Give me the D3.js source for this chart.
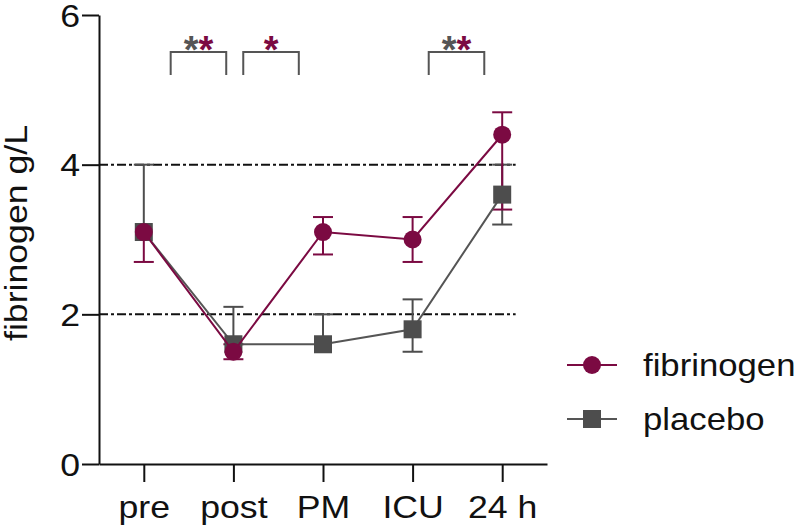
<!DOCTYPE html>
<html>
<head>
<meta charset="utf-8">
<script src="https://cdn.jsdelivr.net/npm/d3@7"></script>
<style>
  body { margin: 0; background: #fff; }
  text { font-family: "Liberation Sans", Arial, sans-serif; }
</style>
</head>
<body>
<div id="chart"></div>
<script>
// data
var categories = ["pre", "post", "PM", "ICU", "24 h"];

var fibMean = [3.1, 1.5, 3.1, 3.0, 4.4];
var fibLow  = [2.7, 1.4, 2.8, 2.7, 3.4];
var fibHigh = [3.1, 1.6, 3.3, 3.3, 4.7];

var plcMean = [3.1, 1.6, 1.6, 1.8, 3.6];
var plcLow  = [3.1, 1.6, 1.6, 1.5, 3.2];
var plcHigh = [4.0, 2.1, 2.0, 2.2, 4.0];

var yTicks = [0, 2, 4, 6];
var refLines = [2, 4];

// brackets: [start, end] in category units, stars with colors
var brackets = [
  { from: 0.3, to: 0.92, stars: ["#555555", "#7b0a42"] },
  { from: 1.11, to: 1.73, stars: ["#7b0a42"] },
  { from: 3.18, to: 3.8, stars: ["#555555", "#7b0a42"] }
];

var svgWidth = 800;
var svgHeight = 529;

var maroon = "#7b0a42";
var grey = "#4d4d4d";
var sx = 1.15; // glyphs in the figure are wider than Arial

var svg = d3.select("#chart")
  .append("svg")
  .attr("width", svgWidth)
  .attr("height", svgHeight);

var x = d3.scaleLinear().domain([-0.5, 4.5]).range([99, 547]);
var y = d3.scaleLinear().domain([0, 6]).range([464, 15]);

// reference lines (dash-dot)
svg.selectAll(".ref")
  .data(refLines)
  .enter()
  .append("line")
  .attr("x1", x(-0.5))
  .attr("x2", x(4.15))
  .attr("y1", d => y(d))
  .attr("y2", d => y(d))
  .attr("stroke", "#111")
  .attr("stroke-width", 2)
  .attr("stroke-dasharray", "9,3,3,3");

// axes
var leftAxis = d3.axisLeft(y).tickValues(yTicks).tickFormat(d3.format("d"))
  .tickSize(17).tickSizeOuter(0).tickPadding(2);
var bottomAxis = d3.axisBottom(x).tickValues(d3.range(categories.length))
  .tickFormat(i => categories[i]).tickSize(18).tickSizeOuter(0);

var yAxis = svg.append("g")
  .attr("transform", `translate(${x(-0.5)}, 0)`)
  .call(leftAxis);

var xAxis = svg.append("g")
  .attr("transform", `translate(0, ${y(0)})`)
  .call(bottomAxis);

[xAxis, yAxis].forEach(function (ax) {
  ax.select(".domain").attr("stroke", "#111").attr("stroke-width", 2);
  ax.selectAll(".tick line").attr("stroke", "#111").attr("stroke-width", 2);
  ax.selectAll(".tick text")
    .attr("fill", "#111")
    .style("font-size", "31px");
});

yAxis.selectAll(".tick text")
  .attr("x", -19 / sx)
  .attr("dy", "0.36em")
  .attr("transform", `scale(${sx},1)`);

xAxis.selectAll(".tick text")
  .attr("y", 32)
  .attr("transform", `scale(${sx},1)`);

// y label
svg.append("text")
  .attr("transform", `translate(27, 233) rotate(-90) scale(${sx},1)`)
  .attr("text-anchor", "middle")
  .attr("fill", "#111")
  .style("font-size", "31px")
  .text("fibrinogen g/L");

// error bars
function drawErrors(mean, low, high, color) {
  var g = svg.append("g");
  mean.forEach(function (m, i) {
    var cx = x(i);
    if (high[i] > m) {
      g.append("line").attr("x1", cx).attr("x2", cx).attr("y1", y(m)).attr("y2", y(high[i]))
        .attr("stroke", color).attr("stroke-width", 2);
      g.append("line").attr("x1", cx - 10).attr("x2", cx + 10).attr("y1", y(high[i])).attr("y2", y(high[i]))
        .attr("stroke", color).attr("stroke-width", 2);
    }
    if (low[i] < m) {
      g.append("line").attr("x1", cx).attr("x2", cx).attr("y1", y(m)).attr("y2", y(low[i]))
        .attr("stroke", color).attr("stroke-width", 2);
      g.append("line").attr("x1", cx - 10).attr("x2", cx + 10).attr("y1", y(low[i])).attr("y2", y(low[i]))
        .attr("stroke", color).attr("stroke-width", 2);
    }
  });
}

drawErrors(plcMean, plcLow, plcHigh, grey);
drawErrors(fibMean, fibLow, fibHigh, maroon);

var line = d3.line().x((d, i) => x(i)).y(d => y(d));

// placebo
svg.append("path")
  .datum(plcMean)
  .attr("d", line)
  .attr("fill", "none")
  .attr("stroke", "#555")
  .attr("stroke-width", 2);

svg.selectAll(".plc")
  .data(plcMean)
  .enter()
  .append("rect")
  .attr("x", (d, i) => x(i) - 9)
  .attr("y", d => y(d) - 9)
  .attr("width", 18)
  .attr("height", 18)
  .attr("fill", grey);

// fibrinogen
svg.append("path")
  .datum(fibMean)
  .attr("d", line)
  .attr("fill", "none")
  .attr("stroke", maroon)
  .attr("stroke-width", 2);

svg.selectAll(".fib")
  .data(fibMean)
  .enter()
  .append("circle")
  .attr("cx", (d, i) => x(i))
  .attr("cy", d => y(d))
  .attr("r", 9)
  .attr("fill", maroon);

// significance brackets
brackets.forEach(function (b) {
  var x1 = x(b.from), x2 = x(b.to);
  svg.append("path")
    .attr("d", `M${x1},75 V52 H${x2} V75`)
    .attr("fill", "none")
    .attr("stroke", "#555")
    .attr("stroke-width", 2);
  var t = svg.append("text")
    .attr("x", (x1 + x2) / 2)
    .attr("y", 63)
    .attr("text-anchor", "middle")
    .style("font-size", "38px")
    .style("font-weight", "bold");
  b.stars.forEach(function (c) {
    t.append("tspan").attr("fill", c).text("*");
  });
});

// legend
var legendItems = [
  { name: "fibrinogen", color: maroon, shape: "circle" },
  { name: "placebo", color: grey, shape: "square" }
];

var legend = svg.selectAll(".legend")
  .data(legendItems)
  .enter()
  .append("g")
  .attr("transform", (d, i) => `translate(567, ${365 + i * 54})`);

legend.append("line")
  .attr("x1", 0).attr("x2", 50).attr("y1", 0).attr("y2", 0)
  .attr("stroke", d => d.shape === "circle" ? maroon : "#555")
  .attr("stroke-width", 2);

legend.filter(d => d.shape === "circle")
  .append("circle").attr("cx", 25).attr("cy", 0).attr("r", 9).attr("fill", d => d.color);

legend.filter(d => d.shape === "square")
  .append("rect").attr("x", 16).attr("y", -9).attr("width", 18).attr("height", 18).attr("fill", d => d.color);

legend.append("text")
  .attr("transform", "translate(76, 11) scale(1.12,1)")
  .attr("fill", "#111")
  .style("font-size", "31px")
  .text(d => d.name);
</script>
</body>
</html>
